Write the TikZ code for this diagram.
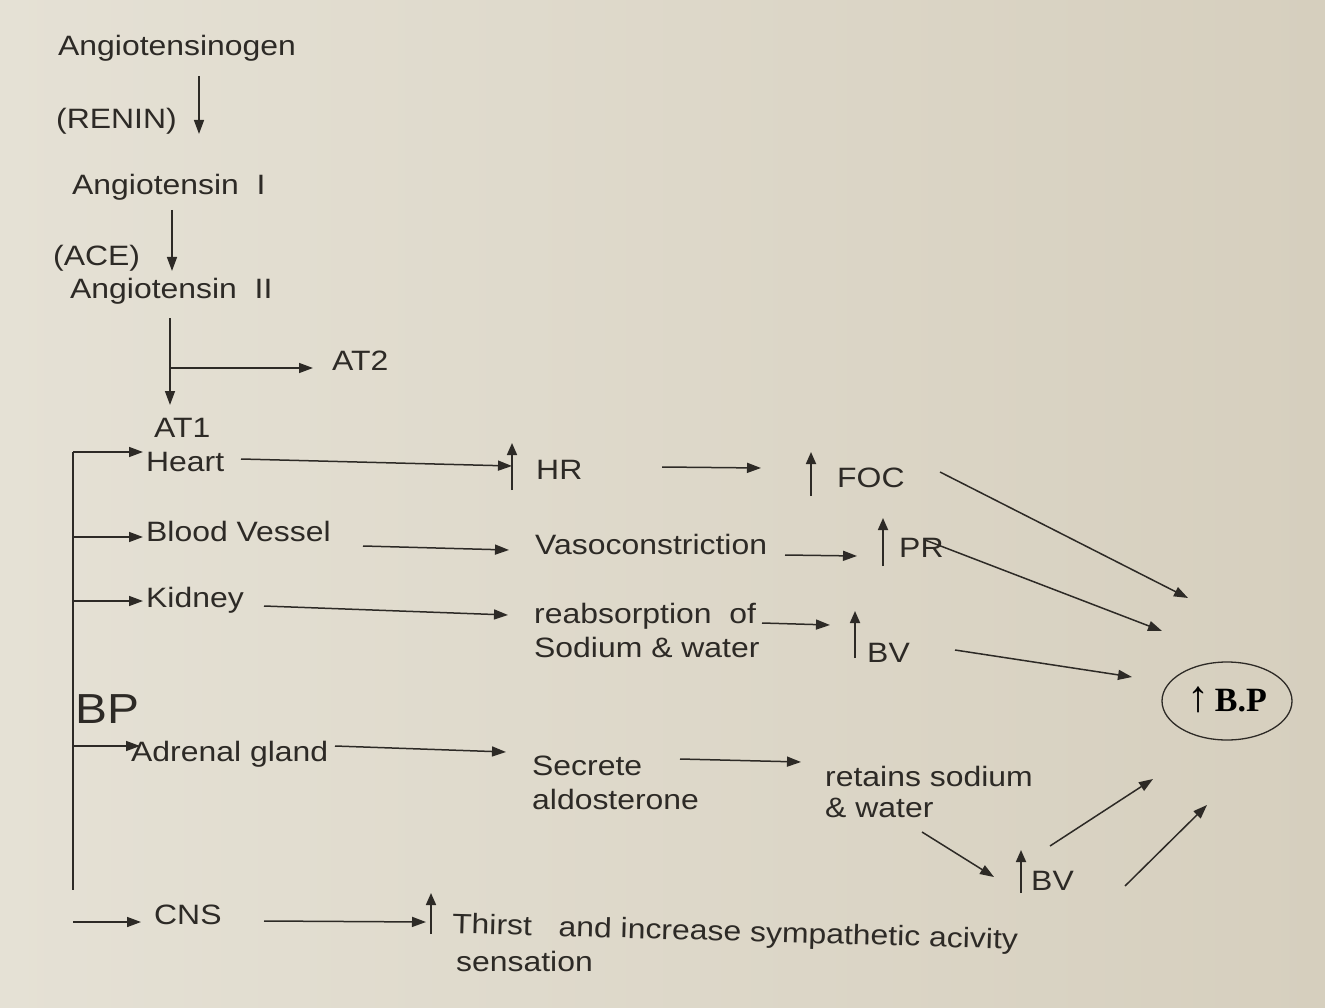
\documentclass[tikz,border=0pt]{standalone}
\usepackage{fontspec}
\setmainfont{Liberation Sans}[FakeStretch=1.14]
\newfontfamily\bpserif{Liberation Serif}
\usetikzlibrary{arrows.meta,shapes.geometric}
\definecolor{paperL}{RGB}{229,225,213}
\definecolor{paperR}{RGB}{214,207,190}
\definecolor{ink}{RGB}{45,42,38}
\tikzset{
  lbl/.style={anchor=west, inner sep=0pt, text=ink, font=\fontsize{28}{34}\selectfont, align=left},
  arr/.style={draw=ink, line width=1.5pt, -{Triangle[length=14pt,width=10pt]}},
  uparr/.style={draw=ink, line width=1.7pt, -{Triangle[length=12pt,width=10pt]}},
  plain/.style={draw=ink, line width=1.5pt}
}
\begin{document}
\begin{tikzpicture}[x=1pt,y=-1pt]
\useasboundingbox (0,0) rectangle (1325,1008);
\shade[left color=paperL, right color=paperR] (0,0) rectangle (1325,1008);

% text nodes
\node[lbl] (agen) at (58,48) {Angiotensinogen};
\node[lbl] (renin) at (56,121) {(RENIN)};
\node[lbl] (ang1) at (72,187) {Angiotensin\ \ I};
\node[lbl] (ace) at (53,258) {(ACE)};
\node[lbl] (ang2) at (70,291) {Angiotensin\ \ II};
\node[lbl] (at2) at (332,361) {AT2};
\node[lbl] (at1) at (154,428) {AT1};
\node[lbl] (heart) at (146,462) {Heart};
\node[lbl] (hr) at (536,470) {HR};
\node[lbl] (foc) at (837,478) {FOC};
\node[lbl] (bves) at (146,531) {Blood Vessel};
\node[lbl] (vaso) at (535,544) {Vasoconstriction};
\node[lbl] (pr) at (899,548) {PR};
\node[lbl] (kid) at (146,600) {Kidney};
\node[lbl] (reab) at (534,630) {reabsorption\ \ of\\Sodium \& water};
\node[lbl] (bv) at (867,653) {BV};
\node[lbl, font=\fontsize{42}{46}\selectfont] (bp) at (75,709) {BP};
\node[lbl] (adr) at (131,754) {Adrenal gland};
\node[lbl] (sec) at (532,783) {Secrete\\aldosterone};
\node[lbl, font=\fontsize{28}{31}\selectfont] (ret) at (825,792) {retains sodium\\\& water};
\node[lbl] (bv2) at (1031,881) {BV};
\node[lbl] (cns) at (154,915) {CNS};
\node[lbl, rotate=-1.6] (thirst) at (452,926) {Thirst\ \ \ and increase sympathetic acivity};
\node[lbl] (sens) at (456,961) {sensation};
\node[draw=ink, line width=1.3pt, ellipse, minimum width=130pt, minimum height=78pt, inner sep=0pt,
      text=black, font=\bpserif\bfseries\fontsize{34}{38}\selectfont] (res) at (1227,701)
      {\smash{\fontsize{44}{44}\selectfont ↑}\,B.P};

% main chain
\coordinate (c1a) at (199,76);  \coordinate (c1b) at (199,134);
\coordinate (c2a) at (172,210); \coordinate (c2b) at (172,271);
\coordinate (c3a) at (170,318); \coordinate (c3b) at (170,405);
\coordinate (c4a) at (170,368); \coordinate (c4b) at (313,368);
\draw[arr] (c1a) -- (c1b);
\draw[arr] (c2a) -- (c2b);
\draw[arr] (c3a) -- (c3b);
\draw[arr] (c4a) -- (c4b);

% bracket
\coordinate (bt) at (73,452); \coordinate (bb) at (73,890);
\draw[plain] (bt) -- (bb);
\draw[arr] (bt) -- (143,452);
\draw[arr] (73,537) -- (143,537);
\draw[arr] (73,601) -- (143,601);
\draw[arr] (73,746) -- (140,746);
\draw[arr] (73,922) -- (141,922);

% heart row
\coordinate (hrup) at (512,466);
\draw[arr] (241,459) -- (hrup);
\draw[uparr] (512,490) -- (512,443);
\draw[arr] (662,467) -- (761,468);
\draw[uparr] (811,496) -- (811,452);

% blood vessel row
\draw[arr] (363,546) -- (509,550);
\draw[arr] (785,555) -- (857,556);
\draw[uparr] (883,566) -- (883,518);

% kidney row
\draw[arr] (264,606) -- (508,615);
\draw[arr] (762,623) -- (830,625);
\draw[uparr] (855,658) -- (855,611);

% adrenal row
\draw[arr] (335,746) -- (506,752);
\draw[arr] (680,759) -- (801,762);
\draw[arr] (922,832) -- (994,877);
\draw[uparr] (1021,893) -- (1021,850);
\draw[arr] (1050,846) -- (1153,779);
\draw[arr] (1125,886) -- (1207,805);

% CNS row
\draw[arr] (264,921) -- (426,922);
\draw[uparr] (431,934) -- (431,893);

% to B.P
\draw[arr] (940,472) -- (1188,598);
\draw[arr] (925,540) -- (1162,631);
\draw[arr] (955,650) -- (1132,677);
\end{tikzpicture}
\end{document}
